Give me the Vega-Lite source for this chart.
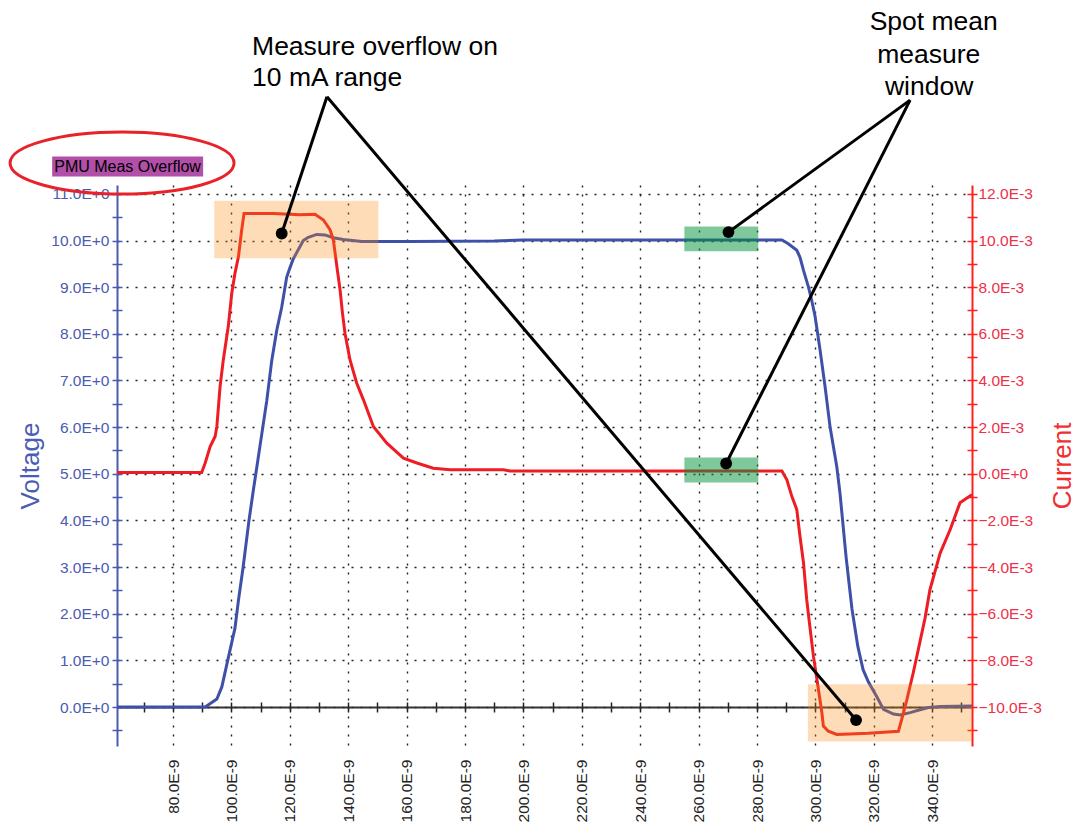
{
  "$schema": "https://vega.github.io/schema/vega-lite/v6.json",
  "width": 855,
  "height": 561,
  "autosize": "none",
  "padding": {"left": 117, "top": 185, "right": 109, "bottom": 79},
  "background": "white",
  "config": {"view": {"stroke": null}, "font": "Liberation Sans", "axis": {"labelFont": "Liberation Sans", "titleFont": "Liberation Sans", "labelFlush": false, "labelOverlap": false}},
  "datasets": {
    "voltage": [
      {"t": 60.8, "v": 0}, {"t": 91.0, "v": 0}, {"t": 95.0, "v": 0.17}, {"t": 96.7, "v": 0.43}, {"t": 99.5, "v": 1.22},
      {"t": 101.2, "v": 1.69}, {"t": 102.4, "v": 2.29}, {"t": 104.0, "v": 3.0}, {"t": 106.0, "v": 4.0}, {"t": 107.5, "v": 4.65},
      {"t": 108.7, "v": 5.15}, {"t": 110.4, "v": 5.86}, {"t": 112.1, "v": 6.57}, {"t": 113.8, "v": 7.43}, {"t": 115.5, "v": 8.07},
      {"t": 117.2, "v": 8.57}, {"t": 118.9, "v": 9.21}, {"t": 120.1, "v": 9.43}, {"t": 121.2, "v": 9.61}, {"t": 124.6, "v": 10.0},
      {"t": 126.3, "v": 10.07}, {"t": 129.2, "v": 10.13}, {"t": 132.0, "v": 10.12}, {"t": 134.9, "v": 10.06}, {"t": 138.3, "v": 10.02},
      {"t": 144.6, "v": 9.98}, {"t": 161.2, "v": 9.98}, {"t": 190.0, "v": 9.99}, {"t": 200.0, "v": 10.01}, {"t": 260.0, "v": 10.01},
      {"t": 288.5, "v": 10.01}, {"t": 290.7, "v": 9.93}, {"t": 293.6, "v": 9.79}, {"t": 294.7, "v": 9.64}, {"t": 295.9, "v": 9.36},
      {"t": 297.6, "v": 9.0}, {"t": 298.7, "v": 8.72}, {"t": 299.9, "v": 8.36}, {"t": 301.6, "v": 7.64}, {"t": 303.3, "v": 6.86},
      {"t": 305.0, "v": 6.0}, {"t": 307.3, "v": 5.15}, {"t": 308.4, "v": 4.58}, {"t": 310.5, "v": 3.2}, {"t": 312.5, "v": 2.1},
      {"t": 314.5, "v": 1.3}, {"t": 316.3, "v": 0.8}, {"t": 318.1, "v": 0.54}, {"t": 321.0, "v": 0.22}, {"t": 323.3, "v": -0.05},
      {"t": 326.7, "v": -0.15}, {"t": 329.0, "v": -0.17}, {"t": 332.4, "v": -0.12}, {"t": 335.8, "v": -0.06}, {"t": 338.7, "v": -0.01},
      {"t": 342.7, "v": 0.01}, {"t": 353.6, "v": 0.02}
    ],
    "current": [
      {"t": 60.8, "i": 0.05}, {"t": 89.8, "i": 0.05}, {"t": 91.0, "i": 0.46}, {"t": 92.7, "i": 1.17}, {"t": 94.4, "i": 1.6},
      {"t": 95.0, "i": 2.03}, {"t": 96.1, "i": 3.74}, {"t": 97.2, "i": 4.88}, {"t": 98.9, "i": 6.31}, {"t": 100.1, "i": 7.74},
      {"t": 101.2, "i": 8.6}, {"t": 102.4, "i": 9.31}, {"t": 103.5, "i": 10.45}, {"t": 104.3, "i": 11.16}, {"t": 114.3, "i": 11.16},
      {"t": 123.5, "i": 11.1}, {"t": 128.6, "i": 11.13}, {"t": 131.5, "i": 10.88}, {"t": 133.8, "i": 10.45}, {"t": 134.9, "i": 10.02},
      {"t": 136.1, "i": 8.88}, {"t": 137.2, "i": 7.88}, {"t": 138.0, "i": 6.9}, {"t": 138.9, "i": 6.0}, {"t": 140.6, "i": 4.88},
      {"t": 142.9, "i": 3.88}, {"t": 145.2, "i": 3.17}, {"t": 148.6, "i": 2.03}, {"t": 153.2, "i": 1.31}, {"t": 158.9, "i": 0.67},
      {"t": 163.5, "i": 0.46}, {"t": 169.1, "i": 0.24}, {"t": 174.9, "i": 0.17}, {"t": 193.1, "i": 0.17}, {"t": 195.4, "i": 0.12},
      {"t": 288.5, "i": 0.12}, {"t": 290.2, "i": -0.26}, {"t": 291.9, "i": -0.97}, {"t": 293.6, "i": -1.54}, {"t": 294.7, "i": -2.69},
      {"t": 295.9, "i": -3.82}, {"t": 297.0, "i": -5.4}, {"t": 298.2, "i": -6.68}, {"t": 299.3, "i": -7.82}, {"t": 300.5, "i": -8.82},
      {"t": 302.2, "i": -10.25}, {"t": 302.7, "i": -10.82}, {"t": 304.4, "i": -11.04}, {"t": 307.3, "i": -11.18}, {"t": 318.1, "i": -11.13},
      {"t": 328.4, "i": -11.04}, {"t": 329.5, "i": -10.54}, {"t": 331.3, "i": -9.68}, {"t": 333.5, "i": -8.52}, {"t": 335.2, "i": -7.54},
      {"t": 337.5, "i": -6.2}, {"t": 339.2, "i": -4.97}, {"t": 342.7, "i": -3.4}, {"t": 346.1, "i": -2.4}, {"t": 349.5, "i": -1.24},
      {"t": 353.0, "i": -0.94}, {"t": 353.6, "i": -0.9}
    ],
    "orange": [
      {"t1": 94.1, "t2": 150.3, "v1": 9.62, "v2": 10.85},
      {"t1": 297.4, "t2": 353.6, "v1": -0.74, "v2": 0.49}
    ],
    "green": [
      {"t1": 255.1, "t2": 280.4, "i1": 9.54, "i2": 10.6},
      {"t1": 255.1, "t2": 280.4, "i1": -0.38, "i2": 0.7}
    ],
    "arrows": [
      {"t1": 132.7, "v1": 13.08, "t2": 117.2, "v2": 10.15},
      {"t1": 132.7, "v1": 13.08, "t2": 313.9, "v2": -0.28},
      {"t1": 332.4, "v1": 13.01, "t2": 270.2, "v2": 10.18},
      {"t1": 332.4, "v1": 13.01, "t2": 269.4, "v2": 5.22}
    ],
    "notesLeft": [
      {"text": "Measure overflow on", "t": 107.05, "v": 14.15},
      {"text": "10 mA range", "t": 107.05, "v": 13.48}
    ],
    "notesCenter": [
      {"text": "Spot mean", "t": 340.5, "v": 14.68},
      {"text": "measure", "t": 338.8, "v": 13.98},
      {"text": "window", "t": 338.9, "v": 13.29}
    ],
    "tag": [
      {"text": "PMU Meas Overflow", "t1": 38.6, "t2": 90.3, "v1": 11.37, "v2": 11.8, "t": 39.3, "v": 11.585, "ct": 62.53, "cv": 11.66}
    ]
  },
  "resolve": {"scale": {"y": "independent"}, "axis": {"x": "independent", "y": "independent"}},
  "layer": [
    {
      "data": {"name": "voltage"},
      "mark": {"type": "line", "color": "#3E50A8", "strokeWidth": 3},
      "encoding": {
        "x": {"field": "t", "type": "quantitative", "scale": {"domain": [60.8, 353.6], "nice": false, "zero": false},
          "axis": {"orient": "bottom", "values": [80, 100, 120, 140, 160, 180, 200, 220, 240, 260, 280, 300, 320, 340],
            "labelExpr": "format(datum.value,'.1f')+'E-9'", "labelAngle": -90, "labelAlign": "right", "labelBaseline": "middle",
            "labelPadding": 13, "labelFontSize": 15.5, "labelColor": "#222", "ticks": false, "domain": false,
            "grid": true, "gridDash": [2, 7], "gridColor": "#222", "gridWidth": 1.4, "title": null}},
        "y": {"field": "v", "type": "quantitative", "scale": {"domain": [-0.836, 11.19], "nice": false, "zero": false},
          "axis": {"orient": "left", "values": [-0.5, 0, 0.5, 1, 1.5, 2, 2.5, 3, 3.5, 4, 4.5, 5, 5.5, 6, 6.5, 7, 7.5, 8, 8.5, 9, 9.5, 10, 10.5, 11],
            "labelExpr": "datum.value % 1 === 0 ? format(datum.value,'.1f')+'E+0' : ''",
            "tickSize": 5, "tickColor": "#4A5AB0", "tickWidth": 1.5, "domainColor": "#4A5AB0", "domainWidth": 2,
            "labelColor": "#4B5BB0", "labelFontSize": 15.5, "labelPadding": 3,
            "grid": true, "gridDash": [2, 7], "gridColor": "#222", "gridWidth": 1.4,
            "gridOpacity": {"condition": {"test": "datum.value % 1 !== 0", "value": 0}, "value": 1},
            "title": "Voltage", "titleColor": "#4B5CB5", "titleFontSize": 26, "titleFontWeight": "normal", "titlePadding": 7}}
      }
    },
    {
      "data": {"name": "current"},
      "mark": {"type": "line", "color": "#EE1D23", "strokeWidth": 3},
      "encoding": {
        "x": {"field": "t", "type": "quantitative", "scale": {"domain": [60.8, 353.6], "nice": false, "zero": false},
          "axis": {"orient": "bottom", "offset": -39, "values": [70, 80, 90, 100, 110, 120, 130, 140, 150, 160, 170, 180, 190, 200, 210, 220, 230, 240, 250, 260, 270, 280, 290, 300, 310, 320, 330, 340, 350],
            "tickSize": 5, "tickColor": "#222", "tickWidth": 1.5, "labels": false, "domain": true, "domainColor": "#333", "domainWidth": 2,
            "grid": false, "title": null}},
        "y": {"field": "i", "type": "quantitative", "scale": {"domain": [-11.672, 12.38], "nice": false, "zero": false},
          "axis": {"orient": "right", "values": [-11, -10, -9, -8, -7, -6, -5, -4, -3, -2, -1, 0, 1, 2, 3, 4, 5, 6, 7, 8, 9, 10, 11, 12],
            "labelExpr": "datum.value % 2 !== 0 ? '' : (datum.value === 0 ? '0.0E+0' : format(datum.value,'.1f')+'E-3')",
            "tickSize": 5, "tickColor": "#FF1F1F", "tickWidth": 1.5, "domainColor": "#FF1F1F", "domainWidth": 2,
            "labelColor": "#EE3048", "labelFontSize": 15.5, "labelPadding": 1, "grid": false,
            "title": "Current", "titleColor": "#F03030", "titleFontSize": 26, "titleFontWeight": "normal",
            "titleAngle": -90, "titleBaseline": "top", "titlePadding": 8}}
      }
    },
    {
      "data": {"name": "orange"},
      "mark": {"type": "rect", "color": "#F88A12", "opacity": 0.3, "clip": false},
      "encoding": {
        "x": {"field": "t1", "type": "quantitative", "scale": {"domain": [60.8, 353.6], "nice": false, "zero": false},
          "axis": {"orient": "bottom", "offset": -39, "values": [70, 80, 90, 100, 110, 120, 130, 140, 150, 160, 170, 180, 190, 200, 210, 220, 230, 240, 250, 260, 270, 280, 290, 300, 310, 320, 330, 340, 350],
            "tickSize": -5, "tickColor": "#222", "tickWidth": 1.5, "labels": false, "domain": false, "grid": false, "title": null}},
        "x2": {"field": "t2"},
        "y": {"field": "v1", "type": "quantitative", "scale": {"domain": [-0.836, 11.19], "nice": false, "zero": false},
          "axis": {"orient": "left", "values": [-0.5, 0, 0.5, 1, 1.5, 2, 2.5, 3, 3.5, 4, 4.5, 5, 5.5, 6, 6.5, 7, 7.5, 8, 8.5, 9, 9.5, 10, 10.5, 11],
            "tickSize": -5, "tickColor": "#4A5AB0", "tickWidth": 1.5, "labels": false, "domain": false, "grid": false, "title": null}},
        "y2": {"field": "v2"}
      }
    },
    {
      "data": {"name": "green"},
      "mark": {"type": "rect", "color": "#009137", "opacity": 0.5, "clip": false},
      "encoding": {
        "x": {"field": "t1", "type": "quantitative", "scale": {"domain": [60.8, 353.6], "nice": false, "zero": false}, "axis": null},
        "x2": {"field": "t2"},
        "y": {"field": "i1", "type": "quantitative", "scale": {"domain": [-11.672, 12.38], "nice": false, "zero": false},
          "axis": {"orient": "right", "values": [-11, -10, -9, -8, -7, -6, -5, -4, -3, -2, -1, 0, 1, 2, 3, 4, 5, 6, 7, 8, 9, 10, 11, 12],
            "tickSize": -5, "tickColor": "#FF1F1F", "tickWidth": 1.5, "labels": false, "domain": false, "grid": false, "title": null}},
        "y2": {"field": "i2"}
      }
    },
    {
      "data": {"name": "arrows"},
      "mark": {"type": "rule", "color": "black", "strokeWidth": 3, "clip": false},
      "encoding": {
        "x": {"field": "t1", "type": "quantitative", "scale": {"domain": [60.8, 353.6], "nice": false, "zero": false}, "axis": null},
        "x2": {"field": "t2"},
        "y": {"field": "v1", "type": "quantitative", "scale": {"domain": [-0.836, 11.19], "nice": false, "zero": false}, "axis": null},
        "y2": {"field": "v2"}
      }
    },
    {
      "data": {"name": "arrows"},
      "mark": {"type": "point", "filled": true, "color": "black", "opacity": 1, "size": 140, "clip": false},
      "encoding": {
        "x": {"field": "t2", "type": "quantitative", "scale": {"domain": [60.8, 353.6], "nice": false, "zero": false}, "axis": null},
        "y": {"field": "v2", "type": "quantitative", "scale": {"domain": [-0.836, 11.19], "nice": false, "zero": false}, "axis": null}
      }
    },
    {
      "data": {"name": "notesLeft"},
      "mark": {"type": "text", "align": "left", "baseline": "middle", "fontSize": 26.5, "color": "black", "font": "Liberation Sans", "clip": false},
      "encoding": {
        "x": {"field": "t", "type": "quantitative", "scale": {"domain": [60.8, 353.6], "nice": false, "zero": false}, "axis": null},
        "y": {"field": "v", "type": "quantitative", "scale": {"domain": [-0.836, 11.19], "nice": false, "zero": false}, "axis": null},
        "text": {"field": "text"}
      }
    },
    {
      "data": {"name": "notesCenter"},
      "mark": {"type": "text", "align": "center", "baseline": "middle", "fontSize": 26.5, "color": "black", "font": "Liberation Sans", "clip": false},
      "encoding": {
        "x": {"field": "t", "type": "quantitative", "scale": {"domain": [60.8, 353.6], "nice": false, "zero": false}, "axis": null},
        "y": {"field": "v", "type": "quantitative", "scale": {"domain": [-0.836, 11.19], "nice": false, "zero": false}, "axis": null},
        "text": {"field": "text"}
      }
    },
    {
      "data": {"name": "tag"},
      "mark": {"type": "rect", "color": "#B24FA9", "clip": false},
      "encoding": {
        "x": {"field": "t1", "type": "quantitative", "scale": {"domain": [60.8, 353.6], "nice": false, "zero": false}, "axis": null},
        "x2": {"field": "t2"},
        "y": {"field": "v1", "type": "quantitative", "scale": {"domain": [-0.836, 11.19], "nice": false, "zero": false}, "axis": null},
        "y2": {"field": "v2"}
      }
    },
    {
      "data": {"name": "tag"},
      "mark": {"type": "text", "align": "left", "baseline": "middle", "fontSize": 16, "color": "black", "font": "Liberation Sans", "clip": false},
      "encoding": {
        "x": {"field": "t", "type": "quantitative", "scale": {"domain": [60.8, 353.6], "nice": false, "zero": false}, "axis": null},
        "y": {"field": "v", "type": "quantitative", "scale": {"domain": [-0.836, 11.19], "nice": false, "zero": false}, "axis": null},
        "text": {"field": "text"}
      }
    },
    {
      "data": {"name": "tag"},
      "mark": {"type": "point", "filled": false, "color": "#E82229", "strokeWidth": 3, "opacity": 1, "size": 50176, "clip": false,
        "shape": "M-1,0A1,0.277,0,1,0,1,0A1,0.277,0,1,0,-1,0Z"},
      "encoding": {
        "x": {"field": "ct", "type": "quantitative", "scale": {"domain": [60.8, 353.6], "nice": false, "zero": false}, "axis": null},
        "y": {"field": "cv", "type": "quantitative", "scale": {"domain": [-0.836, 11.19], "nice": false, "zero": false}, "axis": null}
      }
    }
  ]
}
